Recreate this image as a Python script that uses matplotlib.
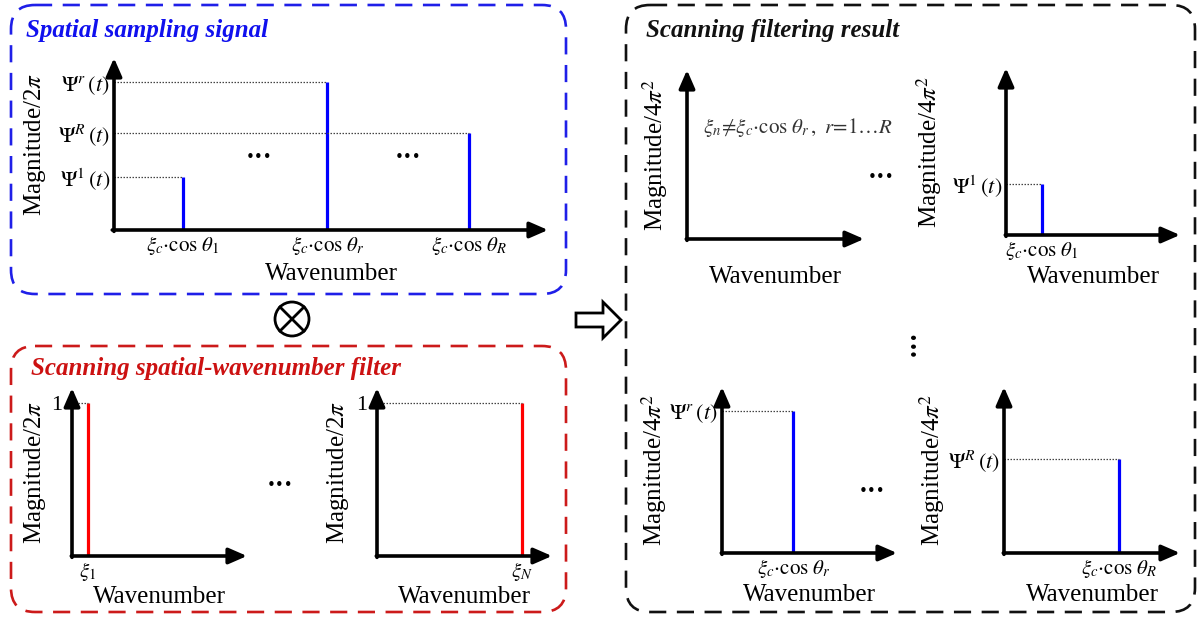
import numpy as np
import matplotlib.pyplot as plt
from matplotlib.patches import FancyBboxPatch, Circle, Polygon

plt.rcParams['font.family'] = ['Liberation Serif', 'DejaVu Serif']
plt.rcParams['mathtext.fontset'] = 'stix'

W, H = 1202, 619

# spatial sampling signal: wavenumber positions and magnitudes
signal_x = [0.95, 2.95, 4.91]
psi = [0.37, 1.03, 0.68]
signal_ticks = [r'$\xi_c{\cdot}\mathrm{cos}\ \theta_1$',
                r'$\xi_c{\cdot}\mathrm{cos}\ \theta_r$',
                r'$\xi_c{\cdot}\mathrm{cos}\ \theta_R$']
psi_labels = [r'$\Psi^1\,(t)$', r'$\Psi^r\,(t)$', r'$\Psi^R\,(t)$']

# scanning filters
filter_x = [0.55, 4.97]
filter_gain = [1.0, 1.0]
filter_ticks = [r'$\xi_1$', r'$\xi_N$']

# filtering results (index into psi)
result_x = [1.24, 2.45, 3.93]
result_idx = [0, 1, 2]

BLUE = '#0000ff'
RED = '#ff0000'

fig = plt.figure(figsize=(W / 100, H / 100), dpi=100)
bg = fig.add_axes([0, 0, 1, 1])
bg.set_xlim(0, W)
bg.set_ylim(H, 0)
bg.axis('off')


def box(x0, y0, x1, y1, color):
    p = FancyBboxPatch((x0, y0), x1 - x0, y1 - y0,
                       boxstyle='round,pad=0,rounding_size=24',
                       fill=False, ec=color, lw=1.9, ls=(0, (6.5, 4)))
    bg.add_patch(p)


box(11, 5, 566, 294, '#1f1fe8')
box(11, 346, 566, 612, '#cc1a1a')
box(626, 5, 1195, 612, '#111111')

title_kw = dict(fontsize=18, fontweight='bold', fontstyle='italic', va='center')
bg.text(26, 30, 'Spatial sampling signal', color='#1010ee', **title_kw)
bg.text(31, 369, 'Scanning spatial-wavenumber filter', color='#cc1111', **title_kw)
bg.text(646, 30, 'Scanning filtering result', color='#111111', **title_kw)

# convolution sign
bg.add_patch(Circle((292, 319), 17, fill=False, ec='k', lw=2))
d = 17 / np.sqrt(2)
bg.plot([292 - d, 292 + d], [319 - d, 319 + d], color='k', lw=2)
bg.plot([292 - d, 292 + d], [319 + d, 319 - d], color='k', lw=2)

# hollow arrow between panels
bg.add_patch(Polygon([(576, 313), (603, 313), (603, 302), (621, 320),
                      (603, 338), (603, 327), (576, 327)],
                     closed=True, fill=True, fc='white', ec='k', lw=2,
                     joinstyle='miter'))

# ellipsis dots
dot_kw = dict(fontsize=11, ha='center', va='center', color='k',
              family='DejaVu Sans')
for x, y in [(259, 158), (408, 158), (280, 486), (881, 178), (872, 492)]:
    bg.text(x, y, '\u2022\u2022\u2022', **dot_kw)
bg.text(914, 343, '\u2022\u2022\u2022', rotation=90, **dot_kw)


def panel(x0, y0, x1, y1, ylabel, ylab_dx, ylim=(0, 1.2), xlab_dy=44):
    ax = fig.add_axes([x0 / W, 1 - y0 / H, (x1 - x0) / W, (y0 - y1) / H])
    ax.set_facecolor('none')
    ax.set_xlim(0, 6)
    ax.set_ylim(*ylim)
    for s in ax.spines.values():
        s.set_visible(False)
    ax.set_xticks([])
    ax.set_yticks([])
    ax.tick_params(length=0)
    arrow = dict(arrowstyle='-|>,head_length=0.55,head_width=0.24',
                 lw=2.6, color='k', shrinkA=0, shrinkB=0, mutation_scale=20)
    ax.annotate('', xy=(1, 0), xytext=(-0.004, 0), xycoords='axes fraction',
                arrowprops=arrow)
    ax.annotate('', xy=(0, 1), xytext=(0, -0.008), xycoords='axes fraction',
                arrowprops=arrow)
    ax.set_xlabel('Wavenumber', fontsize=18)
    ax.xaxis.set_label_coords(0.5, -xlab_dy / (y0 - y1))
    ax.xaxis.label.set_va('center')
    ax.set_ylabel(ylabel, fontsize=18)
    ax.yaxis.set_label_coords(-ylab_dx / (x1 - x0), 0.5)
    ax.yaxis.label.set_va('center')
    return ax


def stems(ax, xs, hs, labels_x, labels_y, color, ypad=3):
    ax.vlines(xs, 0, hs, color=color, lw=2.3)
    ax.hlines(hs, 0, xs, color='#444444', lw=0.9, linestyles=(0, (1.2, 1.2)))
    if labels_x:
        ax.set_xticks(xs, labels_x, fontsize=15)
    if labels_y:
        ax.set_yticks(hs, labels_y, fontsize=16)
    ax.tick_params(axis='x', length=0, pad=3)
    ax.tick_params(axis='y', length=0, pad=ypad)


# spatial sampling signal
ax = panel(114, 230, 548, 58, 'Magnitude/2$\\pi$', 79)
stems(ax, signal_x, psi, signal_ticks, psi_labels, BLUE)

# scanning filters
ax = panel(72, 556, 247, 388, 'Magnitude/2$\\pi$', 37, ylim=(0, 1.1), xlab_dy=41)
stems(ax, filter_x[:1], filter_gain[:1], filter_ticks[:1], ['1'], RED, ypad=7)
ax = panel(377, 556, 552, 388, 'Magnitude/2$\\pi$', 39, ylim=(0, 1.1), xlab_dy=41)
stems(ax, filter_x[1:], filter_gain[1:], filter_ticks[1:], ['1'], RED, ypad=7)

# filtering results
ax = panel(687, 239, 864, 70, 'Magnitude/4$\\pi^2$', 32, xlab_dy=38)
ax.text(0.09, 0.66, r'$\xi_n\!\neq\!\xi_c{\cdot}\mathrm{cos}\ \theta_r\,,\ r\!=\!1\ldots R$',
        transform=ax.transAxes, fontsize=15, color='#333333', va='center')

ax = panel(1006, 235, 1180, 68, 'Magnitude/4$\\pi^2$', 77, xlab_dy=42)
i = result_idx[0]
stems(ax, [result_x[0]], [psi[i]], [signal_ticks[i]], [psi_labels[i]], BLUE)

ax = panel(722, 553, 897, 387, 'Magnitude/4$\\pi^2$', 68, xlab_dy=42)
i = result_idx[1]
stems(ax, [result_x[1]], [psi[i]], [signal_ticks[i]], [psi_labels[i]], BLUE)

ax = panel(1004, 553, 1180, 387, 'Magnitude/4$\\pi^2$', 72, xlab_dy=42)
i = result_idx[2]
stems(ax, [result_x[2]], [psi[i]], [signal_ticks[i]], [psi_labels[i]], BLUE)

fig.savefig('out.png', dpi=100)
